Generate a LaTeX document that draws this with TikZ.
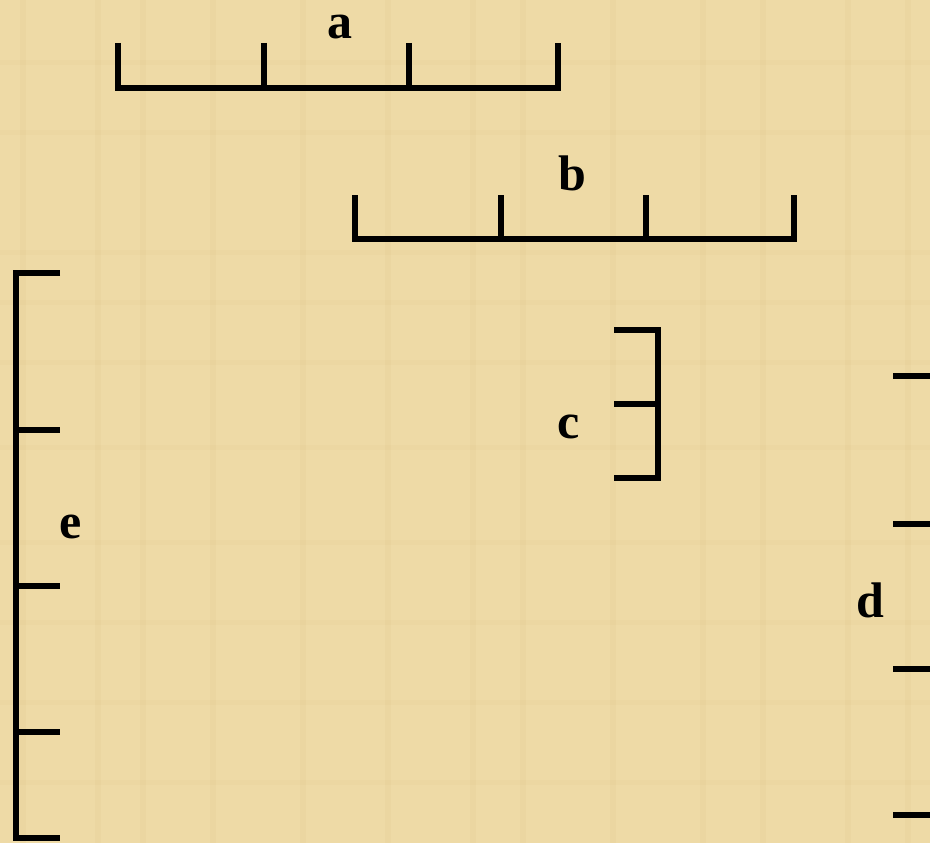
\documentclass[tikz,border=0pt]{standalone}
\usepackage{fontspec}
\setmainfont{Liberation Serif}
\definecolor{papyrus}{RGB}{238,218,166}
\definecolor{papyrusdark}{RGB}{226,200,140}
\tikzset{
  brk/.style={line width=5.5pt, line join=miter, line cap=butt, black},
  lbl/.style={font=\fontsize{50}{50}\selectfont\bfseries, inner sep=0pt, anchor=base}
}
\begin{document}
\begin{tikzpicture}[x=1pt,y=-1pt]
\useasboundingbox (0,0) rectangle (930,843);
\fill[papyrus] (0,0) rectangle (930,843);
% faint texture stripes
\foreach \x in {20,95,140,210,300,385,470,520,610,700,760,845,905}
  \fill[papyrusdark,opacity=0.18] (\x,0) rectangle ++(6,843);
\foreach \y in {60,130,250,300,360,445,540,620,700,780}
  \fill[papyrusdark,opacity=0.15] (0,\y) rectangle ++(930,5);
\clip (0,0) rectangle (930,843);
% bracket a
\draw[brk] (118,43) -- (118,88) -- (558,88) -- (558,43);
\draw[brk] (264,43) -- (264,88);
\draw[brk] (409,43) -- (409,88);
\node[lbl] (la) at (340,39) {a};
% bracket b
\draw[brk] (355,195) -- (355,239) -- (794,239) -- (794,195);
\draw[brk] (501,195) -- (501,239);
\draw[brk] (646,195) -- (646,239);
\node[lbl] (lb) at (572,190) {b};
% bracket c
\draw[brk] (614,330) -- (658,330) -- (658,478) -- (614,478);
\draw[brk] (614,404) -- (658,404);
\node[lbl] (lc) at (569,438) {c};
% bracket e
\draw[brk] (60,273) -- (16,273) -- (16,838) -- (60,838);
\draw[brk] (16,430) -- (60,430);
\draw[brk] (16,586) -- (60,586);
\draw[brk] (16,732) -- (60,732);
\node[lbl] (le) at (71,538) {e};
% bracket d (cut at right edge)
\draw[brk] (893,376) -- (940,376) -- (940,815) -- (893,815);
\draw[brk] (893,524) -- (940,524);
\draw[brk] (893,669) -- (940,669);
\node[lbl] (ld) at (870,617) {d};
\end{tikzpicture}
\end{document}
